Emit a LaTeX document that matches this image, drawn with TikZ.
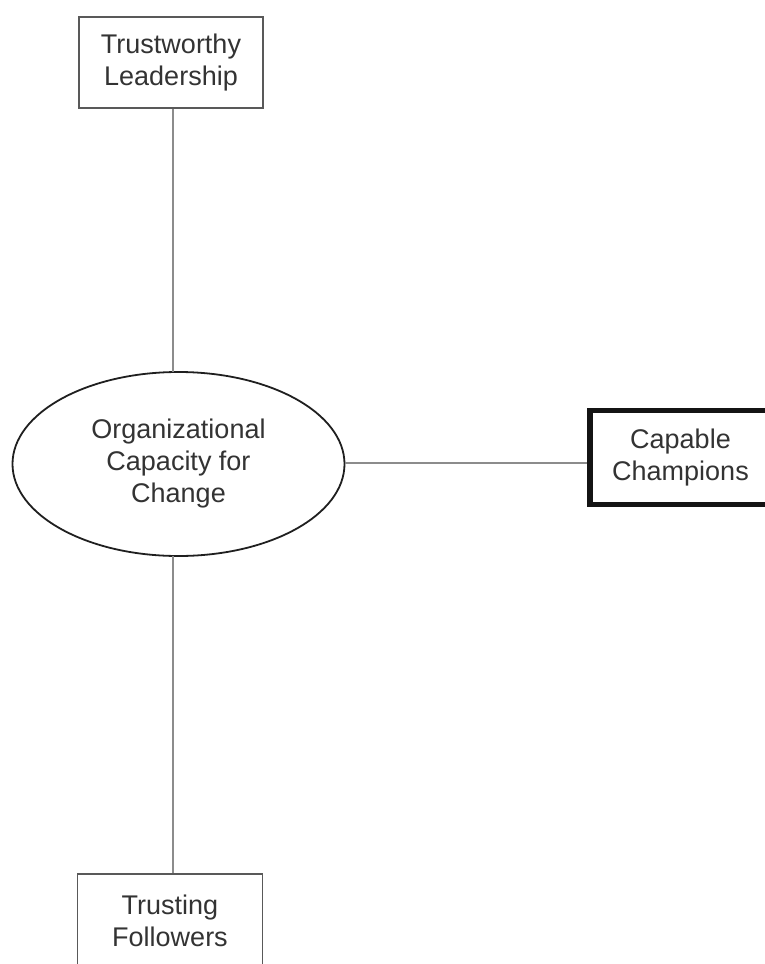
\documentclass[tikz,border=0pt]{standalone}
\usepackage{fontspec}
\setmainfont{Liberation Sans}
\usetikzlibrary{shapes.geometric}
\begin{document}
\begin{tikzpicture}[x=1pt,y=-1pt,
  every node/.style={font=\fontsize{27}{32}\selectfont, text=black!80, align=center, inner sep=0pt},
  plainbox/.style={draw=black!65, line width=1.5pt, fill=white, rectangle},
  thickbox/.style={draw=black!92, line width=5.5pt, fill=white, rectangle},
  oval/.style={draw=black!88, line width=1.8pt, fill=white, ellipse},
  link/.style={draw=black!45, line width=2pt}]
\useasboundingbox (0,0) rectangle (765,964);
\clip (0,0) rectangle (765,964);
\node[plainbox, minimum width=184pt, minimum height=91pt] (lead) at (171,62.5) {Trustworthy\\Leadership};
\node[oval, minimum width=332pt, minimum height=184pt] (occ) at (178.5,464) {Organizational\\Capacity for\\Change};
\node[thickbox, minimum width=181pt, minimum height=94pt] (champ) at (680.5,457.5) {Capable\\Champions};
\node[plainbox, minimum width=185pt, minimum height=94pt] (foll) at (170,921) {Trusting\\Followers};
\draw[link] (lead.south -| 173,0) -- (173,372);
\draw[link] (173,556) -- (foll.north -| 173,0);
\draw[link] (occ.east |- 0,463) -- (champ.west |- 0,463);
\end{tikzpicture}
\end{document}
